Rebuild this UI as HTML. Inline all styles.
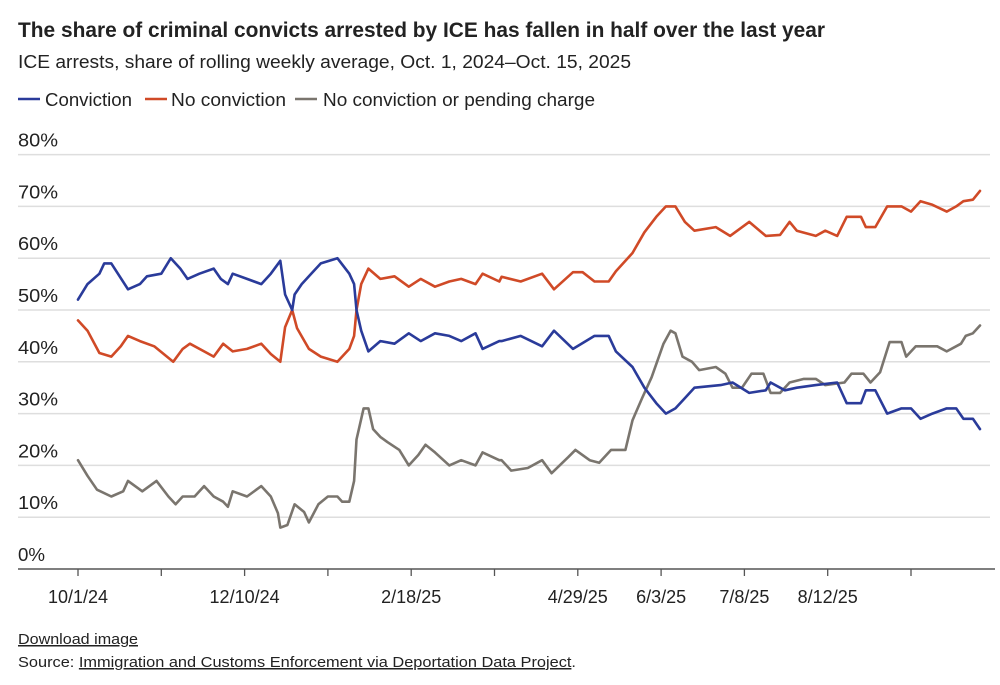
<!DOCTYPE html>
<html><head><meta charset="utf-8">
<style>
html,body{margin:0;padding:0;background:#fff;}
svg text{font-family:"Liberation Sans Narrow","Liberation Sans",sans-serif;fill:#222;}
</style></head>
<body>
<svg id="chart" width="1000" height="680" viewBox="0 0 1000 680" xmlns="http://www.w3.org/2000/svg">
<text x="18" y="37" font-size="21" font-weight="bold" textLength="807" lengthAdjust="spacingAndGlyphs" style="font-family:'Liberation Sans',sans-serif">The share of criminal convicts arrested by ICE has fallen in half over the last year</text>
<text x="18" y="68" font-size="18" textLength="613" lengthAdjust="spacingAndGlyphs" style="font-family:'Liberation Sans',sans-serif">ICE arrests, share of rolling weekly average, Oct. 1, 2024–Oct. 15, 2025</text>
<g>
<line x1="18" y1="99" x2="40" y2="99" stroke="#2a3b9a" stroke-width="2.5"/>
<text x="45" y="106" font-size="18" textLength="87" lengthAdjust="spacingAndGlyphs" style="font-family:'Liberation Sans',sans-serif">Conviction</text>
<line x1="121" y1="99" x2="143" y2="99" stroke="#d04a27" stroke-width="2.5" transform="translate(24,0)"/>
<text x="171" y="106" font-size="18" textLength="115" lengthAdjust="spacingAndGlyphs" style="font-family:'Liberation Sans',sans-serif">No conviction</text>
<line x1="245" y1="99" x2="267" y2="99" stroke="#7a756e" stroke-width="2.5" transform="translate(50,0)"/>
<text x="323" y="106" font-size="18" textLength="272" lengthAdjust="spacingAndGlyphs" style="font-family:'Liberation Sans',sans-serif">No conviction or pending charge</text>
</g>
<g id="grid"></g>
<g id="yticks"></g>
<g id="xaxis"></g>
<g id="series"></g>
<text x="18" y="644" font-size="15" text-decoration="underline" textLength="120" lengthAdjust="spacingAndGlyphs" style="font-family:'Liberation Sans',sans-serif">Download image</text>
<text x="18" y="667" font-size="15" textLength="558" lengthAdjust="spacingAndGlyphs" style="font-family:'Liberation Sans',sans-serif">Source: <tspan text-decoration="underline">Immigration and Customs Enforcement via Deportation Data Project</tspan>.</text>
</svg>
<script>
const yTicks=[0,10,20,30,40,50,60,70,80];
const xTickDays=[0,35,70,105,140,175,210,245,280,315,350];
const xTickLabels=["10/1/24","","12/10/24","","2/18/25","","4/29/25","6/3/25","7/8/25","8/12/25",""];
const convDays=[0,4,9,11,14,21,26,29,35,39,43,46,51,57,60,63,65,71,77,81,85,87,90,91,94,98,102,109,114,116,117,119,122,127,133,139,144,150,156,161,167,170,177,178,186,195,200,208,217,223,226,233,238,243,247,251,255,259,270,275,282,289,291,297,302,310,319,323,329,331,335,340,346,350,354,359,365,369,372,376,379];
const convVals=[52,55,57,59,59,54,55,56.5,57,60,58,56,57,58,56,55,57,56,55,57,59.5,53,50,53,55,57,59,60,57,55,50,46,42,44,43.5,45.5,44,45.5,45,44,45.5,42.5,44,44,45,43,46,42.5,45,45,42,39,35,32,30,31,33,35,35.5,36,34,34.5,36,34.5,35,35.5,36,32,32,34.5,34.5,30,31,31,29,30,31,31,29,29,27];
const noConvDays=[0,4,9,14,18,21,26,32,36,40,44,47,53,57,61,65,71,77,81,85,87,90,92,97,102,109,114,116,117,119,122,127,133,139,144,150,156,161,167,170,177,178,186,195,200,208,212,217,223,226,233,238,243,247,251,255,259,268,274,282,289,295,299,302,310,314,319,323,329,331,335,340,346,350,354,359,365,369,372,376,379];
const noConvVals=[48,46,41.7,41,43,45,44,43,41.5,40,42.5,43.5,42,41,43.5,42,42.5,43.5,41.5,40,46.7,50,46.5,42.5,41,40,42.5,45,50,55,58,56,56.5,54.5,56,54.5,55.5,56,55,57,55.5,56.4,55.5,57,54,57.3,57.3,55.5,55.5,57.5,61,65,68,70,70,67,65.3,66,64.3,67,64.3,64.5,67,65.3,64.3,65.3,64.3,68,68,66,66,70,70,69,71,70.3,69,70,71,71.3,73];
const pendDays=[0,4,8,14,19,21,27,33,38,41,44,49,53,57,61,63,65,71,77,81,84,85,88,91,95,97,101,105,109,111,114,116,117,120,122,124,127,130,135,139,143,146,150,156,161,167,170,177,178,182,189,195,199,206,209,215,219,224,230,233,237,241,246,249,251,254,258,261,268,272,275,279,283,288,291,295,299,305,310,314,322,325,330,333,337,341,346,348,352,361,365,371,373,376,379];
const pendVals=[21,18,15.3,14,15,17,15,17,14,12.5,14,14,16,14,13,12,15,14,16,14,10.8,8,8.5,12.5,11,9,12.5,14,14,13,13,17,25,31,31,27,25.5,24.5,23,20,22,24,22.5,20,21,20,22.5,21,21,19,19.5,21,18.5,21.6,23,21,20.5,23,23,28.7,33,37,43.5,46,45.5,41,40,38.4,39,37.7,35,35,37.7,37.7,34,34,36,36.7,36.7,35.5,36,37.7,37.7,36,38,43.8,43.8,41,43,43,42,43.5,45,45.5,47];

const NS="http://www.w3.org/2000/svg";
function xs(d){return 78+d*(83.3/35);}
function ys(v){return 569-v*5.18;}
function mk(tag,attrs,parent){const e=document.createElementNS(NS,tag);for(const k in attrs)e.setAttribute(k,attrs[k]);parent.appendChild(e);return e;}
const grid=document.getElementById('grid'),yt=document.getElementById('yticks'),xa=document.getElementById('xaxis'),ser=document.getElementById('series');
yTicks.forEach(v=>{
  if(v>0){const l=mk('line',{x1:18,x2:990,y1:ys(v),y2:ys(v),stroke:'#dedede','stroke-width':1.5},grid);
  
  }
  const t=mk('text',{x:18,y:ys(v)-8,'font-size':18,'textLength':v===0?27:40,'lengthAdjust':'spacingAndGlyphs'},yt);
  t.textContent=v+'%';
  
  
});
const ax=mk('line',{x1:18,x2:995,y1:569,y2:569,stroke:'#555','stroke-width':1.5},xa);


xTickDays.forEach((d,i)=>{
  const tk=mk('line',{x1:xs(d),x2:xs(d),y1:569,y2:576,stroke:'#555','stroke-width':1.3},xa);
  
  
  if(xTickLabels[i]){
    const t=mk('text',{x:xs(d),y:603,'font-size':18,'text-anchor':'middle'},xa);
    t.textContent=xTickLabels[i];
    
    
  }
});
function line(days,vals,color,name){
  const pts=days.map((d,i)=>xs(d).toFixed(1)+','+ys(vals[i]).toFixed(1)).join(' ');
  const p=mk('polyline',{points:pts,fill:'none',stroke:color,'stroke-width':2.6,'stroke-linejoin':'round','stroke-linecap':'round'},ser);
  
  
}
line(pendDays,pendVals,'#7a756e','line-no-conviction-or-pending');
line(noConvDays,noConvVals,'#d04a27','line-no-conviction');
line(convDays,convVals,'#2a3b9a','line-conviction');
</script>
</body></html>
